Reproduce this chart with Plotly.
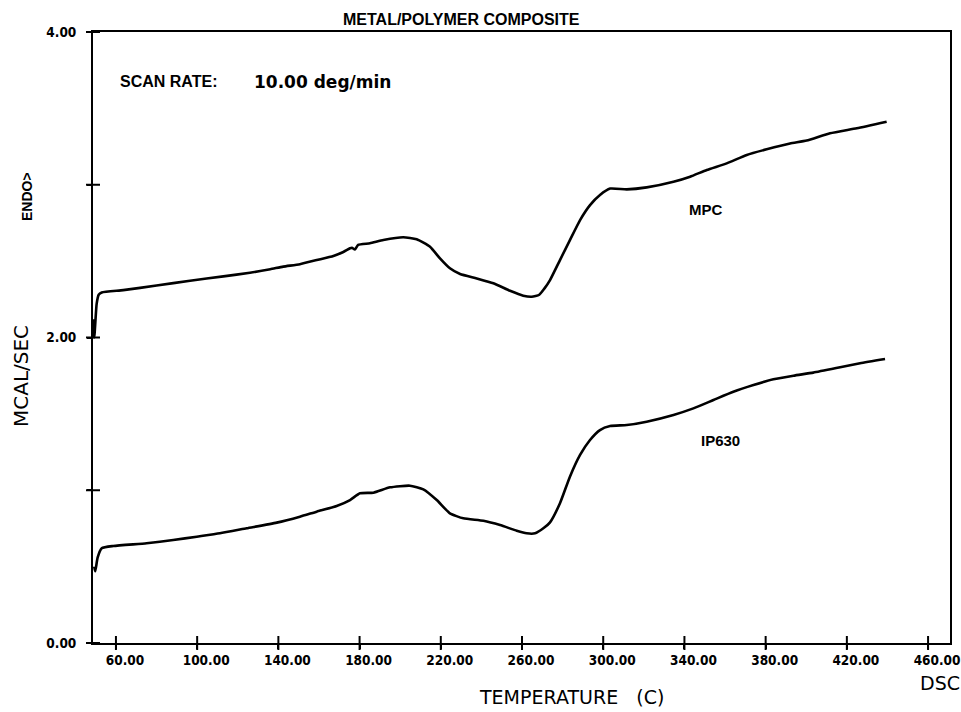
import plotly.graph_objects as go

# DSC scan of the metal/polymer composite (MPC) and the IP630 base polymer
mpc_temp = [48.7, 49.3, 50.5, 51.5, 53.0, 63.6, 80.0, 96.5, 112.9, 126.0, 136.0,
            142.4, 150.6, 158.9, 167.1, 172.0, 175.3, 176.2, 177.7, 179.3, 185.1,
            191.7, 201.5, 208.1, 214.7, 219.6, 224.5, 229.5, 237.7, 245.9, 254.1,
            260.6, 264.8, 268.5, 271.0, 273.8, 278.7, 283.6, 288.6, 293.5, 298.4,
            303.4, 311.6, 321.4, 334.6, 342.8, 351.0, 360.8, 370.7, 380.5, 392.0,
            400.2, 411.7, 424.9, 439.6]
mpc_heat = [2.12, 2.00, 2.22, 2.28, 2.295, 2.31, 2.34, 2.372, 2.40, 2.424, 2.447,
            2.464, 2.48, 2.507, 2.534, 2.56, 2.584, 2.588, 2.576, 2.606, 2.617,
            2.638, 2.656, 2.643, 2.594, 2.518, 2.453, 2.416, 2.387, 2.355, 2.306,
            2.274, 2.267, 2.28, 2.32, 2.376, 2.507, 2.638, 2.769, 2.867, 2.933,
            2.975, 2.970, 2.983, 3.02, 3.053, 3.097, 3.14, 3.195, 3.232, 3.27,
            3.289, 3.337, 3.37, 3.413]

ip_temp = [49.3, 49.8, 51.0, 53.0, 58.7, 75.1, 88.2, 99.8, 111.2, 124.4, 139.2,
           150.6, 158.9, 168.7, 175.3, 180.2, 186.8, 195.0, 204.8, 211.4, 218.0,
           224.5, 231.1, 241.0, 249.2, 257.4, 262.3, 266.4, 270.5, 273.8, 278.7,
           283.6, 288.6, 293.5, 298.4, 303.4, 311.6, 321.4, 334.6, 344.4, 354.3,
           364.1, 374.0, 383.8, 393.7, 403.5, 416.7, 426.5, 438.8]
ip_heat = [0.50, 0.47, 0.56, 0.62, 0.635, 0.653, 0.674, 0.696, 0.718, 0.751, 0.788,
           0.827, 0.86, 0.897, 0.936, 0.98, 0.984, 1.019, 1.03, 1.006, 0.936,
           0.849, 0.816, 0.80, 0.772, 0.735, 0.718, 0.718, 0.751, 0.79, 0.915,
           1.089, 1.231, 1.329, 1.394, 1.42, 1.427, 1.449, 1.493, 1.536, 1.591,
           1.645, 1.689, 1.726, 1.75, 1.77, 1.805, 1.831, 1.859]

x_ticks = [60, 100, 140, 180, 220, 260, 300, 340, 380, 420, 460]
x_tick_text = ["60.00", "100.00", "140.00", "180.00", "220.00", "260.00",
               "300.00", "340.00", "380.00", "420.00", "460.00"]
y_ticks = [0, 1, 2, 3, 4]
y_tick_text = ["0.00", "", "2.00", "", "4.00"]

x_range = [48.7, 470.8]
y_range = [0, 4]

INK = "#000000"
TICK_FONT = dict(family="DejaVu Sans Condensed, DejaVu Sans, sans-serif",
                 size=13.5, color=INK)
PLOTTER_FONT = dict(family="DejaVu Sans, sans-serif", size=19, color=INK)
LABEL_FONT = dict(family="Liberation Sans, Arial, sans-serif", size=15,
                  color=INK)


def bold(labels):
    return ["<b>%s</b>" % s if s else "" for s in labels]


fig = go.Figure()

for t, h in ((mpc_temp, mpc_heat), (ip_temp, ip_heat)):
    fig.add_trace(go.Scatter(x=t, y=h, mode="lines",
                             line=dict(color=INK, width=2.6, shape="spline",
                                       smoothing=0.5),
                             showlegend=False, hoverinfo="skip"))

# tick marks that cross the axis lines
fig.add_trace(go.Scatter(x=x_ticks, y=[y_range[0]] * len(x_ticks), mode="markers",
                         marker=dict(symbol="line-ns", size=10,
                                     line=dict(color=INK, width=2)),
                         cliponaxis=False, showlegend=False, hoverinfo="skip"))
fig.add_trace(go.Scatter(x=[x_range[0]] * len(y_ticks), y=y_ticks, mode="markers",
                         marker=dict(symbol="line-ew", size=10,
                                     line=dict(color=INK, width=2)),
                         cliponaxis=False, showlegend=False, hoverinfo="skip"))

fig.update_xaxes(range=x_range, tickvals=x_ticks, ticktext=bold(x_tick_text),
                 ticks="outside", ticklen=4, tickwidth=2, tickcolor=INK,
                 ticklabelshift=9, ticklabelstandoff=0, automargin=False,
                 ticklabeloverflow="allow",
                 showline=True, linewidth=2, linecolor=INK, mirror=True,
                 showgrid=False, zeroline=False, tickfont=TICK_FONT)
fig.update_yaxes(range=y_range, tickvals=y_ticks, ticktext=bold(y_tick_text),
                 ticks="outside", ticklen=4, tickwidth=2, tickcolor=INK,
                 ticklabelstandoff=8, automargin=False,
                 ticklabeloverflow="allow",
                 showline=True, linewidth=2, linecolor=INK, mirror=True,
                 showgrid=False, zeroline=False, tickfont=TICK_FONT)

annotations = [
    dict(text="<b>METAL/POLYMER COMPOSITE</b>", x=461, y=20,
         font=dict(family="Liberation Sans, Arial, sans-serif", size=16,
                   color=INK)),
    dict(text="<b>SCAN RATE:</b>", x=168, y=82,
         font=dict(family="Liberation Sans, Arial, sans-serif", size=16,
                   color=INK)),
    dict(text="<b>10.00 deg/min</b>", x=322, y=82,
         font=dict(family="DejaVu Sans, sans-serif", size=17, color=INK)),
    dict(text="<b>ENDO></b>", x=27, y=197, textangle=-90,
         font=dict(family="Liberation Sans, Arial, sans-serif",
                   size=14, color=INK)),
    dict(text="MCAL/SEC", x=21, y=376, textangle=-90,
         font=dict(family="DejaVu Sans, sans-serif", size=20, color=INK)),
    dict(text="TEMPERATURE&nbsp;&nbsp;&nbsp;(C)", x=571, y=697, font=PLOTTER_FONT),
    dict(text="DSC", x=940, y=683, font=PLOTTER_FONT),
    dict(text="<b>MPC</b>", x=706, y=209, font=LABEL_FONT),
    dict(text="<b>IP630</b>", x=720, y=440, font=LABEL_FONT),
]
for a in annotations:
    fig.add_annotation(xref="paper", yref="paper", showarrow=False,
                       xanchor="center", yanchor="middle",
                       x=(a.pop("x") - 93) / (950 - 93),
                       y=(643 - a.pop("y")) / (643 - 32), **a)

fig.update_layout(width=961, height=712,
                  margin=dict(l=93, r=11, t=32, b=69, autoexpand=False),
                  paper_bgcolor="white", plot_bgcolor="white")

fig.write_html("out.html")
